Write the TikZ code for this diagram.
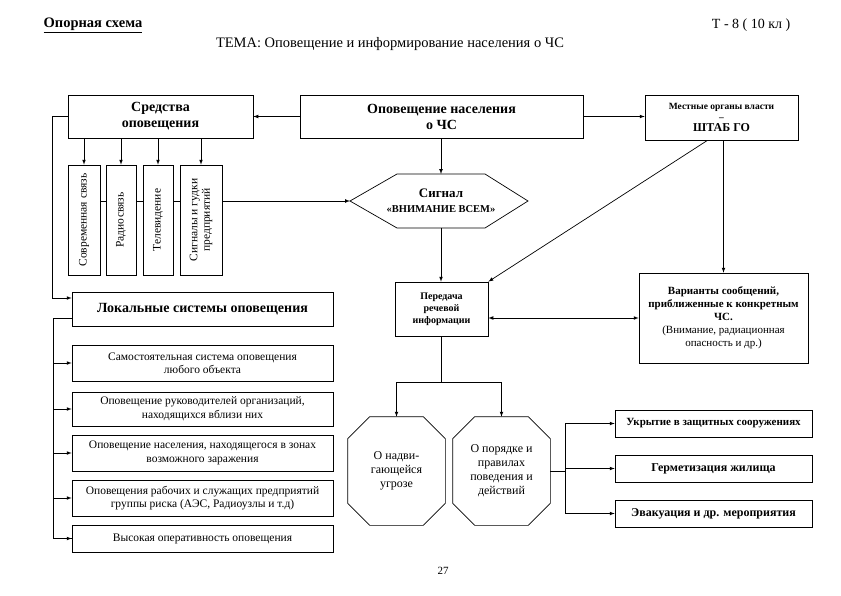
\documentclass[tikz,border=0pt]{standalone}
\usepackage{fontspec}
\setmainfont{Liberation Serif}

\begin{document}
\begin{tikzpicture}[x=1pt, y=-1pt, >=latex, line width=0.7pt,
    bigbox/.style={draw, align=center, inner sep=1pt,
        font=\fontsize{14}{16}\selectfont\bfseries},
    subbox/.style={draw, align=center, inner sep=1pt, minimum width=261,
        font=\fontsize{11.5}{13.5}\selectfont},
    vbox/.style={draw, rotate=90, align=center, inner sep=1pt,
        minimum width=110, font=\fontsize{11.5}{12.5}\selectfont},
    octbox/.style={minimum width=97, minimum height=108,
        align=center, inner sep=1pt, font=\fontsize{12}{14}\selectfont},
    rbox/.style={draw, align=center, inner sep=1pt, minimum width=197,
        minimum height=27, font=\fontsize{12}{14}\selectfont\bfseries}]
    \useasboundingbox (0,0) rectangle (841,595);
    % header
    \node[anchor=west, font=\fontsize{14.5}{16}\selectfont\bfseries] (oporn) at (40,25)
        {\underline{Опорная схема}};
    \node[anchor=east, font=\fontsize{14}{16}\selectfont] (klass) at (794,25) {Т - 8 ( 10 кл )};
    \node[font=\fontsize{14.5}{16}\selectfont] (tema) at (390,44)
        {ТЕМА: Оповещение и информирование населения о ЧС};
    % top row
    \node[bigbox, minimum width=185, minimum height=43] (sredstva) at (160.5,116.5)
        {Средства\\оповещения};
    \node[bigbox, minimum width=283, minimum height=43] (opov) at (441.5,116.5)
        {Оповещение населения\\о ЧС};
    \node[bigbox, minimum width=153, minimum height=45,
        font=\fontsize{9.5}{11}\selectfont\bfseries] (shtab) at (721.5,117.5)
        {Местные органы власти\\–\\{\fontsize{12}{14}\selectfont ШТАБ ГО}};
    % means of warning
    \node[vbox, minimum height=32] (v1) at (84,220) {Современная связь};
    \node[vbox, minimum height=30] (v2) at (121,220) {Радиосвязь};
    \node[vbox, minimum height=30] (v3) at (158,220) {Телевидение};
    \node[vbox, minimum height=42] (v4) at (201,220) {Сигналы и гудки\\предприятий};
    % signal
    \coordinate (sigW) at (350,201);
    \coordinate (sigE) at (528,201);
    \coordinate (sigN) at (441,174);
    \coordinate (sigS) at (441,228);
    \draw (sigW) -- (397,174) -- (485,174) -- (sigE) -- (485,228) -- (397,228) -- cycle;
    \node[align=center, font=\fontsize{13}{15}\selectfont\bfseries] (signal) at (441,201)
        {Сигнал\\{\fontsize{10.5}{12}\selectfont «ВНИМАНИЕ ВСЕМ»}};
    % speech
    \node[bigbox, minimum width=93, minimum height=54,
        font=\fontsize{10}{12}\selectfont\bfseries] (peredacha) at (441.5,309)
        {Передача\\речевой\\информации};
    \node[draw, align=center, inner sep=1pt, minimum width=169, minimum height=90,
        font=\fontsize{11}{13}\selectfont] (varianty) at (723.5,318)
        {\textbf{Варианты сообщений,}\\\textbf{приближенные к конкретным}\\\textbf{ЧС.}\\
        (Внимание, радиационная\\опасность и др.)};
    % local systems
    \node[bigbox, minimum width=261, minimum height=34] (lokal) at (202.5,309)
        {Локальные системы оповещения};
    \node[subbox, minimum height=36] (suba) at (202.5,363)
        {Самостоятельная система оповещения\\любого объекта};
    \node[subbox, minimum height=34] (subb) at (202.5,409)
        {Оповещение руководителей организаций,\\находящихся вблизи них};
    \node[subbox, minimum height=36] (subc) at (202.5,453)
        {Оповещение населения, находящегося в зонах\\возможного заражения};
    \node[subbox, minimum height=36] (subd) at (202.5,498)
        {Оповещения рабочих и служащих предприятий\\группы риска (АЭС, Радиоузлы и т.д)};
    \node[subbox, minimum height=27] (sube) at (202.5,538.5)
        {Высокая оперативность оповещения};
    % octagons
    \node[octbox] (oct1) at (396.5,471) {О надви-\\гающейся\\угрозе};
    \node[octbox] (oct2) at (501.5,471) {О порядке и\\правилах\\поведения и\\действий};
    \foreach \o in {oct1, oct2}
        \draw ([xshift=22pt]\o.north west) -- ([xshift=-22pt]\o.north east)
            -- ([yshift=-22pt]\o.north east) -- ([yshift=22pt]\o.south east)
            -- ([xshift=-22pt]\o.south east) -- ([xshift=22pt]\o.south west)
            -- ([yshift=22pt]\o.south west) -- ([yshift=-22pt]\o.north west) -- cycle;
    % measures
    \node[rbox, font=\fontsize{11}{13}\selectfont\bfseries] (ukr) at (713.5,423.5)
        {Укрытие в защитных сооружениях};
    \node[rbox] (germ) at (713.5,468.5) {Герметизация жилища};
    \node[rbox] (evak) at (713.5,513.5) {Эвакуация и др. мероприятия};
    \node[font=\fontsize{11}{13}\selectfont] (pnum) at (443,571) {27};
    % connectors
    \draw[->] (opov.west) -- (sredstva.east);
    \draw[->] (opov.east) -- (opov.east -| shtab.west);
    \foreach \v in {v1, v2, v3, v4}
        \draw[->] (sredstva.south -| \v.east) -- (\v.east);
    \draw (v1.south |- sigW) -- (v2.north |- sigW)
        (v2.south |- sigW) -- (v3.north |- sigW)
        (v3.south |- sigW) -- (v4.north |- sigW);
    \draw[->] (v4.south |- sigW) -- (sigW);
    \draw[->] (opov.south -| sigN) -- (sigN);
    \draw[->] (sigS) -- (peredacha.north -| sigS);
    \draw[->] ([xshift=-14pt]shtab.south) -- (peredacha.north east);
    \draw[->] (shtab.south -| varianty.north) -- (varianty.north);
    \draw[<->] (varianty.west -| peredacha.east) -- (varianty.west);
    \draw (peredacha.south) -- ++(0,46) coordinate (split);
    \draw[->] (split) -| (oct1.north);
    \draw[->] (split) -| (oct2.north);
    \draw (oct2.east) -- ++(15,0) coordinate (fork);
    \foreach \r in {ukr, germ, evak}
        \draw[->] (fork) |- (\r.west);
    \draw[->] (sredstva.west) -- ++(-15,0) |- ([yshift=11pt]lokal.west);
    \draw ([yshift=-9pt]lokal.west) -- ++(-18,0) coordinate (lbus) |- (sube.west);
    \foreach \s in {suba, subb, subc, subd, sube}
        \draw[->] (lbus |- \s.west) -- (\s.west);
\end{tikzpicture}
\end{document}
